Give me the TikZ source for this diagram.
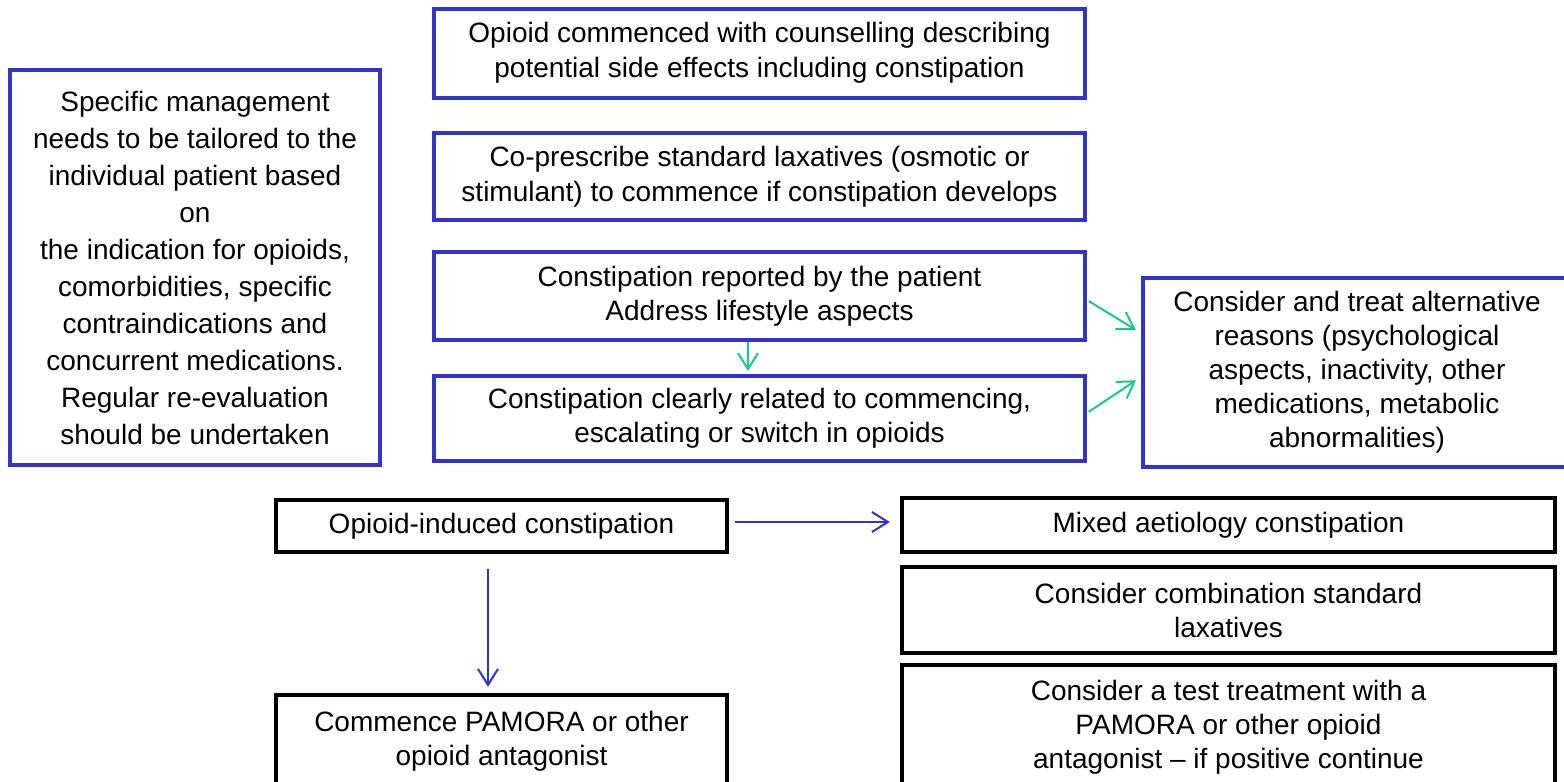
\documentclass[tikz,border=0pt]{standalone}
\usepackage{fontspec}
\setmainfont{Liberation Sans}
\usetikzlibrary{arrows.meta}
\definecolor{boxblue}{RGB}{51,51,204}
\definecolor{arrgreen}{RGB}{25,200,145}
\begin{document}
\begin{tikzpicture}[x=0.5pt,y=-0.5pt,
  txt/.style={font=\fontsize{14pt}{17pt}\selectfont, align=center, inner sep=0pt},
  bluebox/.style={txt, draw=boxblue, line width=2pt, rectangle},
  blackbox/.style={txt, draw=black, line width=2.2pt, rectangle},
  garrow/.style={draw=arrgreen, line width=1pt, -{Straight Barb[length=8pt,width=10pt,line width=1pt]}},
  barrow/.style={draw=boxblue, line width=1pt, -{Straight Barb[length=8pt,width=10pt,line width=1pt]}},
  wline/.style={draw=white, line width=1pt}]
\useasboundingbox (0,0) rectangle (1564,782);
\fill[white] (0,0) rectangle (1564,782);
\clip (0,0) rectangle (1564,782);

\node[bluebox, minimum width=325.5pt, minimum height=44.5pt, font=\fontsize{14pt}{17.5pt}\selectfont] (n1) at (759.5,53)
  {Opioid commenced with counselling describing\\potential side effects including constipation};
\node[bluebox, minimum width=325.5pt, minimum height=43.5pt, font=\fontsize{14pt}{17.5pt}\selectfont] (n2) at (759.5,176.5)
  {Co-prescribe standard laxatives (osmotic or\\stimulant) to commence if constipation develops};
\node[bluebox, minimum width=325.5pt, minimum height=44pt] (n3) at (759.5,296)
  {Constipation reported by the patient\\Address lifestyle aspects};
\node[bluebox, minimum width=325.5pt, minimum height=42.5pt] (n4) at (759.5,418.5)
  {Constipation clearly related to commencing,\\escalating or switch in opioids};
\node[bluebox, minimum width=185pt, minimum height=197.5pt, font=\fontsize{14pt}{18.5pt}\selectfont] (nL) at (195,267.5)
  {Specific management\\needs to be tailored to the\\individual patient based\\on\\the indication for opioids,\\comorbidities, specific\\contraindications and\\concurrent medications.\\Regular re-evaluation\\should be undertaken};
\node[bluebox, minimum width=214pt, minimum height=94.5pt] (nR) at (1357,372.5)
  {Consider and treat alternative\\reasons (psychological\\aspects, inactivity, other\\medications, metabolic\\abnormalities)};

\node[blackbox, minimum width=225.5pt, minimum height=26pt] (nO) at (501.5,526)
  {Opioid-induced constipation};
\node[blackbox, minimum width=326.5pt, minimum height=27pt] (nM) at (1228.5,525)
  {Mixed aetiology constipation};
\node[blackbox, minimum width=326.5pt, minimum height=43pt] (nC) at (1228.5,610)
  {Consider combination standard\\laxatives};
\node[blackbox, minimum width=326.5pt, minimum height=62.5pt] (nT) at (1228.5,727.5)
  {Consider a test treatment with a\\PAMORA or other opioid\\antagonist -- if positive continue};
\node[blackbox, minimum width=225.5pt, minimum height=46pt] (nP) at (501.5,741)
  {Commence PAMORA or other\\opioid antagonist};

\draw[wline] ([xshift=-4.75pt]n1.south) -- ([xshift=-4.75pt]n2.north);
\draw[wline] ([xshift=-4.75pt]n2.south) -- ([xshift=-4.75pt]n3.north);

\draw[garrow, shorten >=1.5pt] ([xshift=-5.75pt]n3.south) -- ([xshift=-5.75pt]n4.north);
\draw[garrow, shorten <=1pt, shorten >=3pt] ([yshift=-2pt]n3.east) -- ([yshift=19.75pt]nR.west);
\draw[garrow, shorten <=1pt, shorten >=3pt] ([yshift=2.75pt]n4.east) -- ([yshift=-2.25pt]nR.west);

\draw[barrow, shorten <=3pt, shorten >=5pt] ([yshift=2pt]nO.east) -- ([yshift=1.5pt]nM.west);
\draw[barrow, shorten <=7.5pt, shorten >=3pt] ([xshift=-6.75pt]nO.south) -- ([xshift=-6.75pt]nP.north);
\end{tikzpicture}
\end{document}
